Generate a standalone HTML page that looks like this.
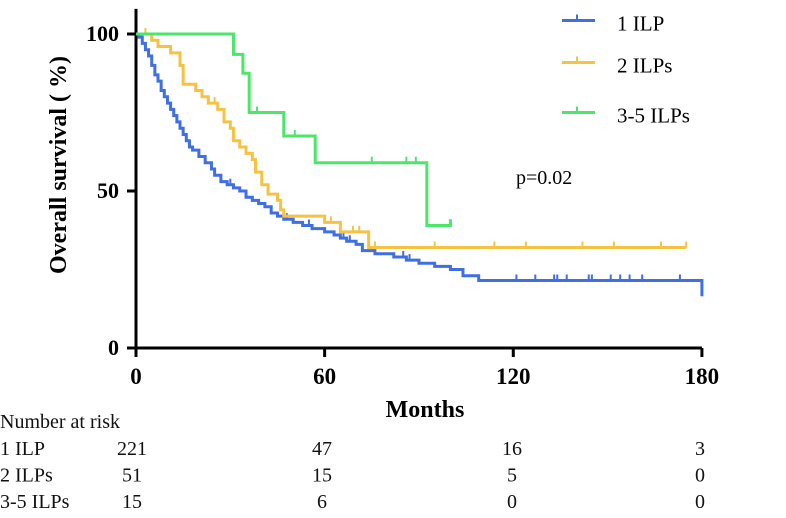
<!DOCTYPE html>
<html><head><meta charset="utf-8"><style>
body{margin:0;background:#fff;}
svg text{font-family:"Liberation Serif",serif;}
.s{font-family:"Liberation Serif",serif;font-size:20px;fill:#111}
</style></head><body>
<svg id="c" width="786" height="513">
</svg>
<script>
const blueT=[0,1,2,3,4,5,6,7,8,9,10,11,12,13,14,15,16,17,18,20,22,24,25,27,29,31,33,35,37,39,41,43,45,47,50,53,56,60,63,65,67,70,72,76,82,86,90,95,100,104,109,180];
const blueS=[100,99,97,95,93,90,87,85,82,80,78,76,74,72,70,68,66,64,63,61,59,57,55,53,52,51,50,48,47,46,45,43,42,41,40,39,38,37,36,35,34,33,31,30,29,28,27,26,25,23,21.5,16.5];
const blueC=[121,127,133,134,137,144,145,151,154,157,161,173,30,48,55,66,68,85,87];
const yelT=[0,5,7,11,14,15,19,21,23,26,28,30,31,33,35,37,38,40,42,45,46,47,60,65,74,175];
const yelS=[100,98,96,94,90,84,82,80,78,76,72,70,66,64,62,60,56,52,49,47,44,42,40,37,32,32];
const yelC=[76,95,114,124,142,152,167,175,3,25,46,62,69,71];
const grnT=[0,31,34,36,47,57,92.5,100];
const grnS=[100,93.5,87.5,75,67.5,59,39,41];
const grnC=[38.5,50.5,75,86,89];
const xTicks=[0,60,120,180], yTicks=[0,50,100];
const riskRows=["1 ILP","2 ILPs","3-5 ILPs"];
const riskVals=[[221,47,16,3],[51,15,5,0],[15,6,0,0]];
const X=m=>136+m*3.144, Y=s=>348-s*3.14;
const svg=document.getElementById('c'), NS='http://www.w3.org/2000/svg';
function mk(t,a,txt){const e=document.createElementNS(NS,t);for(const k in a)e.setAttribute(k,a[k]);if(txt!=null)e.textContent=txt;svg.appendChild(e);return e;}
function stepPath(T,S){let d=`M${X(T[0])},${Y(S[0])}`;for(let i=1;i<T.length;i++){d+=`H${X(T[i])}V${Y(S[i])}`;}return d;}
function survAt(T,S,m){let v=S[0];for(let i=0;i<T.length;i++){if(T[i]<=m)v=S[i];}return v;}
const series=[[blueT,blueS,blueC,'#3f6fe0','blue'],[yelT,yelS,yelC,'#f5c242','yellow'],[grnT,grnS,grnC,'#4be66a','green']];
let ax=mk('path',{d:`M${X(0)},${Y(108)}V${Y(0)}H${X(180)}`,fill:'none',stroke:'#000','stroke-width':3});


xTicks.forEach(t=>{let l=mk('line',{x1:X(t),x2:X(t),y1:Y(0),y2:Y(0)+9,stroke:'#000','stroke-width':3});


let tx=mk('text',{x:X(t),y:384,'text-anchor':'middle','font-size':23,'font-weight':'bold'},t);

});
yTicks.forEach(t=>{let l=mk('line',{x1:X(0)-9,x2:X(0),y1:Y(t),y2:Y(t),stroke:'#000','stroke-width':3});


let tx=mk('text',{x:119,y:Y(t)+7,'text-anchor':'end','font-size':22,'font-weight':'bold'},t);

});
series.forEach(([T,S,C,col,n])=>{
 let p=mk('path',{d:stepPath(T,S),fill:'none',stroke:col,'stroke-width':3});
 
 
 C.forEach(m=>{const v=survAt(T,S,m);let c=mk('line',{x1:X(m),x2:X(m),y1:Y(v),y2:Y(v)-6,stroke:col,'stroke-width':2});
 
 });
});
const legN=["1 ILP","2 ILPs","3-5 ILPs"], legY=[20.5,62.5,112.5];
series.forEach((s,i)=>{const y=legY[i];
 let l=mk('line',{x1:562,x2:595,y1:y,y2:y,stroke:s[3],'stroke-width':3});
 
 
 let v=mk('line',{x1:577,x2:577,y1:y,y2:y-6,stroke:s[3],'stroke-width':2});
 
 
 let t=mk('text',{x:617,y:y+10,'font-size':21},legN[i]);
 
 });
let pv=mk('text',{x:516,y:184,'font-size':20},'p=0.02');


let yt=mk('text',{x:0,y:0,'font-size':24,'font-weight':'bold','text-anchor':'middle',transform:'translate(66,165) rotate(-90)'},'Overall survival ( %)');


let xt=mk('text',{x:425,y:417,'font-size':24,'font-weight':'bold','text-anchor':'middle'},'Months');


let rh=mk('text',{x:0,y:428,class:'s'},'Number at risk');


const colX=[132,322,512,700];
riskRows.forEach((r,i)=>{const y=455+i*26.5;
 let t=mk('text',{x:0,y:y,class:'s'},r);
 
 
 riskVals[i].forEach((v,j)=>{let n=mk('text',{x:colX[j],y:y,class:'s','text-anchor':'middle'},v);
 
 });
});
</script>
</body></html>
